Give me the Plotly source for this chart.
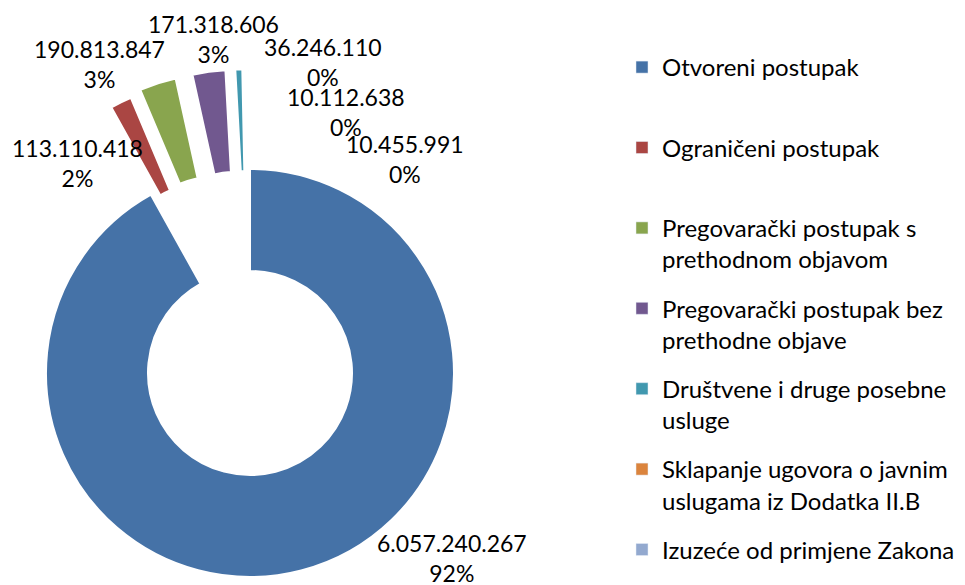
import math
import plotly.graph_objects as go

# data
labels = ["Otvoreni postupak", "Ograničeni postupak",
          "Pregovarački postupak s prethodnom objavom",
          "Pregovarački postupak bez prethodne objave",
          "Društvene i druge posebne usluge",
          "Sklapanje ugovora o javnim uslugama iz Dodatka II.B",
          "Izuzeće od primjene Zakona"]
legend_text = ["Otvoreni postupak<br> ", "Ograničeni postupak<br> ",
               "Pregovarački postupak s<br>prethodnom objavom",
               "Pregovarački postupak bez<br>prethodne objave",
               "Društvene i druge posebne<br>usluge",
               "Sklapanje ugovora o javnim<br>uslugama iz Dodatka II.B",
               "Izuzeće od primjene Zakona"]
values = [6057240267, 113110418, 190813847, 171318606, 36246110, 10112638, 10455991]

colors = ["#4572A7", "#AA4643", "#89A54E", "#71588F", "#4198AF", "#DB843D", "#93A9CF"]
explode = [0, 0.49, 0.49, 0.49, 0.49, 0.49, 0.49]
# label block centres (px, page coords)
label_pos = [(452, 558), (77, 163), (99, 64), (213, 39), (323, 62), (346, 112), (405, 159)]

# the page body has an 8px margin, so the figure is drawn offset by it
OFF = 8
W, H = 965 - OFF, 585 - OFF
cx, cy, R = 250 - OFF, 373 - OFF, 204
FONT = "Lato"

total = sum(values)

# percentages rounded so they add up to 100 (like Excel does)
raw = [v * 100.0 / total for v in values]
pct = [int(math.floor(p)) for p in raw]
left = 100 - sum(pct)
order = sorted(range(len(raw)), key=lambda k: raw[k] - pct[k], reverse=True)
for k in order[:left]:
    pct[k] += 1

fig = go.Figure()

cum = 0
for i, v in enumerate(values):
    ang = 2 * math.pi * (cum + v / 2.0) / total
    cum += v
    d = explode[i] * R
    x0 = cx + d * math.sin(ang)
    y0 = cy - d * math.cos(ang)
    dom = dict(x=[max(0, (x0 - R) / W), min(1, (x0 + R) / W)],
               y=[max(0, (H - y0 - R) / H), min(1, (H - y0 + R) / H)])
    cols = [colors[j] if j == i else "rgba(0,0,0,0)" for j in range(len(values))]
    lw = [2 if j == i else 0 for j in range(len(values))]
    fig.add_trace(go.Pie(
        labels=labels, values=values, sort=False, direction="clockwise", rotation=0,
        hole=0.5, domain=dom, textinfo="none", showlegend=False,
        marker=dict(colors=cols, line=dict(color="white", width=lw)),
    ))

# legend entries
for i, name in enumerate(legend_text):
    fig.add_trace(go.Bar(x=[None], y=[None], name=name, legendgroup=str(i),
                         marker=dict(color=colors[i]), showlegend=True))

for i, v in enumerate(values):
    txt = "{:,}".format(v).replace(",", ".") + "<br>" + str(pct[i]) + "%"
    px_, py_ = label_pos[i]
    fig.add_annotation(x=(px_ - OFF) / W, y=1 - (py_ - OFF) / H, xref="paper", yref="paper",
                       text=txt, showarrow=False, xanchor="center", yanchor="middle",
                       font=dict(family=FONT, size=23, color="black"))

fig.update_layout(
    width=W, height=H,
    margin=dict(l=0, r=0, t=0, b=0, autoexpand=False),
    paper_bgcolor="white", plot_bgcolor="white",
    font=dict(family=FONT, size=24, color="black"),
    xaxis=dict(visible=False), yaxis=dict(visible=False),
    legend=dict(x=(622 - OFF) / W, y=1 - 37 / H, xanchor="left", yanchor="top",
                valign="top", tracegroupgap=15, traceorder="grouped",
                font=dict(family=FONT, size=24, color="black")),
)

fig.write_html("out.html")
